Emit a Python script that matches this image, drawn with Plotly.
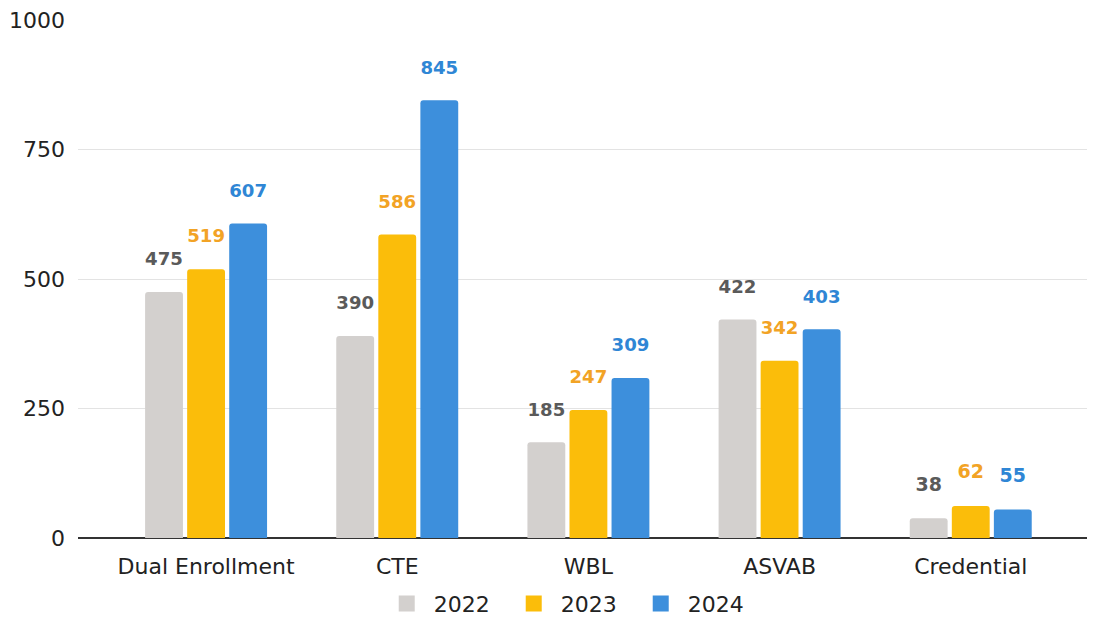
import plotly.graph_objects as go

categories = ["Dual Enrollment", "CTE", "WBL", "ASVAB", "Credential"]
years = ["2022", "2023", "2024"]
values_2022 = [475, 390, 185, 422, 38]
values_2023 = [519, 586, 247, 342, 62]
values_2024 = [607, 845, 309, 403, 55]
y_ticks = [0, 250, 500, 750, 1000]

bar_colors = ["#d3d0ce", "#fbbd0a", "#3d8fdc"]
label_colors = ["#5a5a5a", "#f2a325", "#2f86d5"]

fig = go.Figure()
for year, vals, bc, lc in zip(years, [values_2022, values_2023, values_2024], bar_colors, label_colors):
    fig.add_trace(go.Bar(
        name=year,
        x=categories,
        y=vals,
        marker=dict(color=bc, line=dict(width=0)),
        text=vals,
        textposition="outside",
        # small base font keeps the blank second line short; it lifts the label off the bar
        textfont=dict(color=lc, size=16, family="DejaVu Sans"),
        texttemplate="<b><span style='font-size:19px'>%{text}</span></b><br> ",
        cliponaxis=False,
        showlegend=False,
        legendgroup=year,
    ))

# bigger square swatches for the legend
for year, bc in zip(years, bar_colors):
    fig.add_trace(go.Scatter(
        name=year,
        x=[None],
        y=[None],
        mode="markers",
        marker=dict(symbol="square", size=16, color=bc),
        legendgroup=year,
    ))

# page body adds an 8px offset, so the figure is 8px smaller than the window
fig.update_layout(
    barmode="group",
    bargap=0.34,
    bargroupgap=0.1,
    barcornerradius=3,
    width=1087,
    height=611,
    paper_bgcolor="white",
    plot_bgcolor="white",
    font=dict(family="DejaVu Sans", color="#222222", size=22),
    margin=dict(l=70, r=0, t=12, b=81),
    xaxis=dict(
        range=[-0.67, 4.65],
        showgrid=False,
        showline=False,
        ticks="",
        tickfont=dict(size=22, color="#222222"),
        ticklabelstandoff=13,
    ),
    yaxis=dict(
        range=[0, 1000],
        tickvals=y_ticks,
        gridcolor="#e3e3e3",
        gridwidth=1,
        zeroline=True,
        zerolinecolor="#333333",
        zerolinewidth=1.5,
        tickfont=dict(size=22, color="#222222"),
        ticklabelstandoff=12,
        ticklabeloverflow="allow",
    ),
    legend=dict(
        orientation="h",
        x=0.484,
        xanchor="center",
        yref="container",
        y=0.025,
        yanchor="middle",
        font=dict(size=22, color="#222222"),
        itemwidth=44,
        entrywidth=68,
        traceorder="normal",
    ),
)

fig.write_html("out.html")
